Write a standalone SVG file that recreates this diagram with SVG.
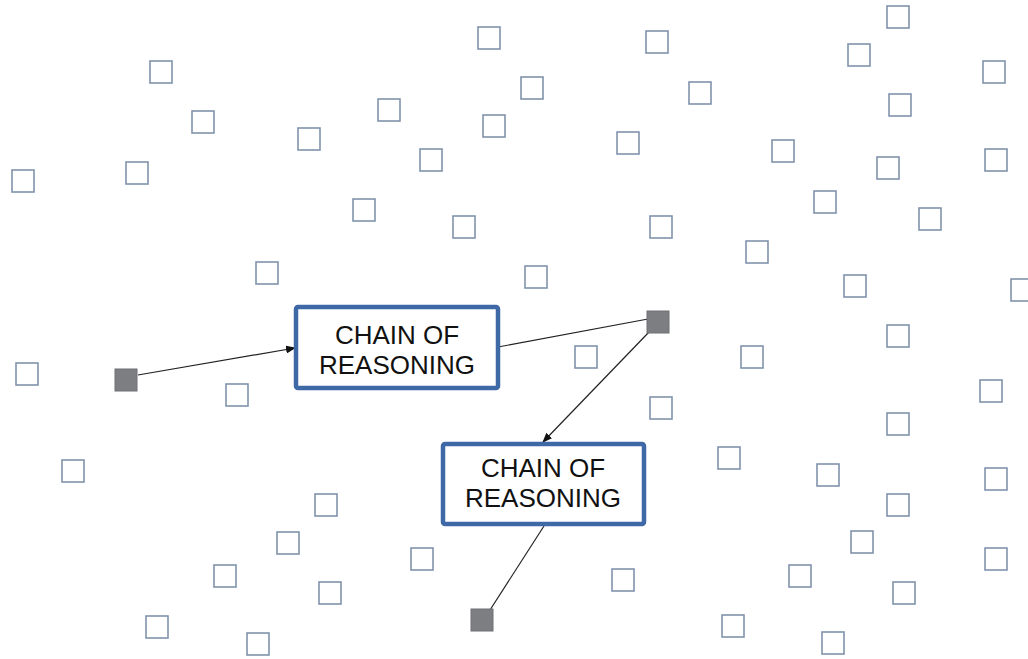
<svg xmlns="http://www.w3.org/2000/svg" width="1028" height="659" viewBox="0 0 1028 659">
<defs>
<style>
.sq{fill:#fff;stroke:#8193ab;stroke-width:1.6}
.g{fill:#7d7e82;stroke:#6e7075;stroke-width:1}
.box{fill:#fff;stroke:#3e68a6;stroke-width:4.5}
.lbl{font-family:"Liberation Sans",Arial,sans-serif;font-size:26px;fill:#111;text-anchor:middle}
.ln{stroke:#222;stroke-width:1.2;fill:none}
</style>
<marker id="ah" markerWidth="10" markerHeight="8" refX="9" refY="4" orient="auto" markerUnits="userSpaceOnUse">
<path d="M0,0 L10,4 L0,8 z" fill="#111"/>
</marker>
<rect id="s" width="22" height="22"/>
</defs>
<rect width="1028" height="659" fill="#fff"/>
<g id="background-squares">
<use href="#s" class="sq" x="478" y="27"/>
<use href="#s" class="sq" x="646" y="31"/>
<use href="#s" class="sq" x="887" y="6"/>
<use href="#s" class="sq" x="848" y="44"/>
<use href="#s" class="sq" x="983" y="61"/>
<use href="#s" class="sq" x="150" y="61"/>
<use href="#s" class="sq" x="521" y="77"/>
<use href="#s" class="sq" x="689" y="82"/>
<use href="#s" class="sq" x="889" y="94"/>
<use href="#s" class="sq" x="378" y="99"/>
<use href="#s" class="sq" x="192" y="111"/>
<use href="#s" class="sq" x="483" y="115"/>
<use href="#s" class="sq" x="617" y="132"/>
<use href="#s" class="sq" x="298" y="128"/>
<use href="#s" class="sq" x="772" y="140"/>
<use href="#s" class="sq" x="420" y="149"/>
<use href="#s" class="sq" x="985" y="149"/>
<use href="#s" class="sq" x="877" y="157"/>
<use href="#s" class="sq" x="126" y="162"/>
<use href="#s" class="sq" x="12" y="170"/>
<use href="#s" class="sq" x="814" y="191"/>
<use href="#s" class="sq" x="353" y="199"/>
<use href="#s" class="sq" x="919" y="208"/>
<use href="#s" class="sq" x="453" y="216"/>
<use href="#s" class="sq" x="650" y="216"/>
<use href="#s" class="sq" x="746" y="241"/>
<use href="#s" class="sq" x="256" y="262"/>
<use href="#s" class="sq" x="525" y="266"/>
<use href="#s" class="sq" x="844" y="275"/>
<use href="#s" class="sq" x="1011" y="279"/>
<use href="#s" class="sq" x="887" y="325"/>
<use href="#s" class="sq" x="575" y="346"/>
<use href="#s" class="sq" x="741" y="346"/>
<use href="#s" class="sq" x="16" y="363"/>
<use href="#s" class="sq" x="980" y="380"/>
<use href="#s" class="sq" x="226" y="384"/>
<use href="#s" class="sq" x="650" y="397"/>
<use href="#s" class="sq" x="887" y="413"/>
<use href="#s" class="sq" x="718" y="447"/>
<use href="#s" class="sq" x="62" y="460"/>
<use href="#s" class="sq" x="817" y="464"/>
<use href="#s" class="sq" x="985" y="468"/>
<use href="#s" class="sq" x="315" y="494"/>
<use href="#s" class="sq" x="887" y="494"/>
<use href="#s" class="sq" x="277" y="532"/>
<use href="#s" class="sq" x="851" y="531"/>
<use href="#s" class="sq" x="411" y="548"/>
<use href="#s" class="sq" x="985" y="548"/>
<use href="#s" class="sq" x="214" y="565"/>
<use href="#s" class="sq" x="789" y="565"/>
<use href="#s" class="sq" x="612" y="569"/>
<use href="#s" class="sq" x="319" y="582"/>
<use href="#s" class="sq" x="893" y="582"/>
<use href="#s" class="sq" x="146" y="616"/>
<use href="#s" class="sq" x="722" y="615"/>
<use href="#s" class="sq" x="247" y="633"/>
<use href="#s" class="sq" x="822" y="632"/>
</g>
<g id="connectors">
<line class="ln" x1="138" y1="375" x2="295" y2="348" marker-end="url(#ah)"/>
<line class="ln" x1="498" y1="347" x2="648" y2="319"/>
<line class="ln" x1="650" y1="331" x2="543" y2="442" marker-end="url(#ah)"/>
<line class="ln" x1="544" y1="526" x2="490" y2="610"/>
</g>
<g id="start-node"><rect class="g" x="115" y="369" width="22" height="22"/></g>
<g id="middle-node"><rect class="g" x="647" y="311" width="22" height="22"/></g>
<g id="end-node"><rect class="g" x="471" y="609" width="22" height="22"/></g>
<g id="chain-of-reasoning-1">
<rect class="box" x="296" y="307" width="202" height="81" rx="2"/>
<text class="lbl" x="397" y="344">CHAIN OF</text>
<text class="lbl" x="397" y="374">REASONING</text>
</g>
<g id="chain-of-reasoning-2">
<rect class="box" x="443" y="444" width="201" height="80" rx="2"/>
<text class="lbl" x="543" y="477">CHAIN OF</text>
<text class="lbl" x="543" y="507">REASONING</text>
</g>
</svg>
